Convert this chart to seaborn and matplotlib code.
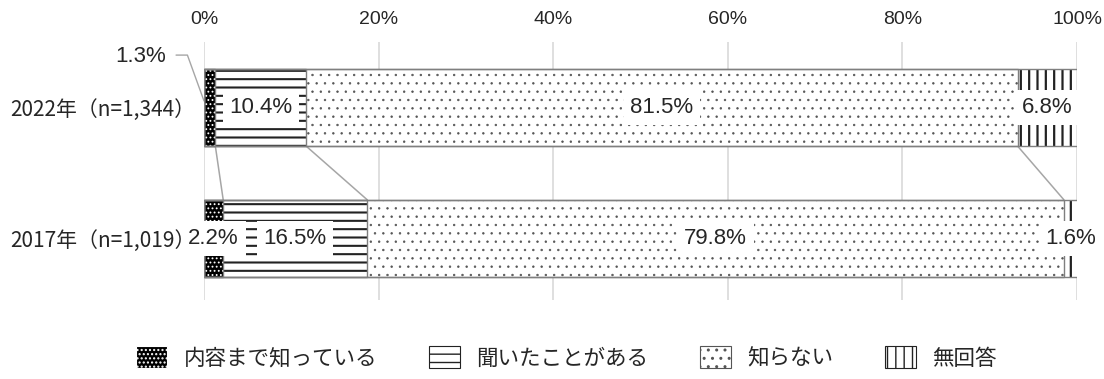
import numpy as np
import pandas as pd
import matplotlib
import matplotlib.pyplot as plt
from matplotlib.patches import Patch
import seaborn as sns

matplotlib.use("Agg")

# ── Data ──────────────────────────────────────────────────────────────────
years = ["2022年（n=1,344）", "2017年（n=1,019）"]
categories = ["内容まで知っている", "聞いたことがある", "知らない", "無回答"]
vals_2022 = [1.3, 10.4, 81.5, 6.8]
vals_2017 = [2.2, 16.5, 79.8, 1.6]
x_ticks = [0, 20, 40, 60, 80, 100]

# ── Style ─────────────────────────────────────────────────────────────────
sns.set_theme(style="white")
plt.rcParams["font.family"] = ["Noto Sans CJK JP", "DejaVu Sans"]

# face, hatch colour, hatch pattern, hatch line width per category
styles = [
    ("black", "white", "....", 0.8),
    ("white", "#222222", "--", 1.5),
    ("white", "#555555", "..", 0.5),
    ("white", "#222222", "||", 1.6),
]
BAR_H = 0.59
EDGE = "#7f7f7f"
LAT_FONT = ["Liberation Sans", "DejaVu Sans"]

vals = np.array([vals_2022, vals_2017])
cum = vals.cumsum(axis=1)

fig = plt.figure(figsize=(11.04, 3.79), dpi=100)
ax = fig.add_axes([204 / 1104, 1 - 300 / 379, (1077 - 204) / 1104, (300 - 42) / 379])


def set_hatch_lw(patches, lw):
    for p in patches:
        if hasattr(p, "set_hatch_linewidth"):
            p.set_hatch_linewidth(lw)


# stacked bars: draw cumulative totals from the widest down, each covering the rest
for k in reversed(range(len(categories))):
    face, hcol, hatch, hlw = styles[k]
    df = pd.DataFrame({"year": years, "value": cum[:, k]})
    n_before = len(ax.patches)
    with plt.rc_context({"hatch.linewidth": hlw}):
        sns.barplot(data=df, x="value", y="year", orient="y", ax=ax, color=face,
                    saturation=1, width=BAR_H, hatch=hatch, edgecolor=hcol,
                    linewidth=0, zorder=2)
    set_hatch_lw(ax.patches[n_before:], hlw)

# grey segment outlines
for k in range(len(categories)):
    df = pd.DataFrame({"year": years, "value": cum[:, k]})
    sns.barplot(data=df, x="value", y="year", orient="y", ax=ax, fill=False,
                color=EDGE, width=BAR_H, linewidth=1, zorder=3)

# series lines between the two bars
for k in range(len(categories) - 1):
    ax.plot([cum[0, k], cum[1, k]], [BAR_H / 2, 1 - BAR_H / 2],
            color="#a6a6a6", lw=1.1, zorder=1)

# value labels
box = dict(boxstyle="square,pad=0.3", fc="white", ec="none")
for i in range(len(years)):
    starts = cum[i] - vals[i]
    for k in range(len(categories)):
        if i == 0 and k == 0:
            continue
        ax.text(starts[k] + vals[i, k] / 2, i, f"{vals[i, k]:.1f}%", fontsize=16,
                family=LAT_FONT, ha="center", va="center", bbox=box, zorder=5)

# 1.3% label sits outside with a leader line
ax.text(-4.4, -0.39, f"{vals[0, 0]:.1f}%", fontsize=16, family=LAT_FONT,
        ha="right", va="center", clip_on=False)
ax.plot([-3.2, -1.9, 0.0], [-0.4, -0.4, -0.05], color="#a6a6a6", lw=1,
        clip_on=False, zorder=1)

# axes
ax.set_xlim(0, 100)
ax.set_ylim(1.47, -0.5)
ax.set_xticks(x_ticks)
ax.set_xticklabels([f"{t}%" for t in x_ticks], family=LAT_FONT, fontsize=14)
ax.xaxis.tick_top()
ax.tick_params(axis="x", length=0, pad=10)
ax.tick_params(axis="y", length=0, pad=6, labelsize=15)
ax.set_xlabel("")
ax.set_ylabel("")
ax.set_axisbelow(True)
ax.grid(axis="x", color="#d9d9d9", lw=1.2)
ax.grid(axis="y", visible=False)
for s in ax.spines.values():
    s.set_visible(False)

# legend
handles = []
for f, h, p, hlw in styles:
    with plt.rc_context({"hatch.linewidth": hlw}):
        patch = Patch(facecolor=f, edgecolor=h, hatch=p, lw=0.8)
    set_hatch_lw([patch], hlw)
    handles.append(patch)
fig.legend(handles, categories, loc="center", bbox_to_anchor=(0.513, 1 - 358 / 379),
           ncol=4, frameon=False, fontsize=15.5, handlelength=1.45, handleheight=1.2,
           handletextpad=0.75, columnspacing=2.4)

fig.savefig("out.png", dpi=100)
